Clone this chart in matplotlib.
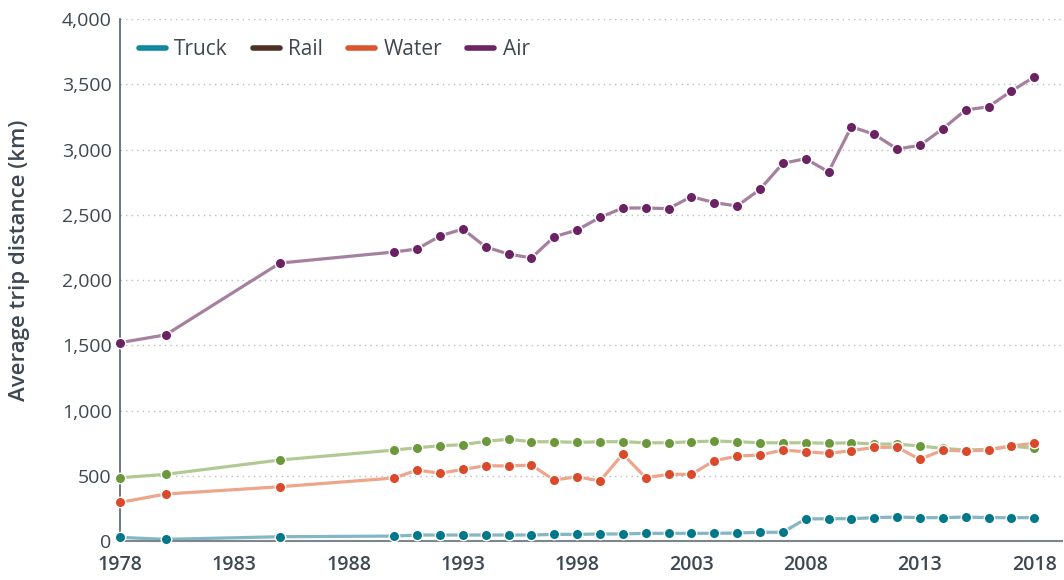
import matplotlib.pyplot as plt
from matplotlib.lines import Line2D
from matplotlib.ticker import FuncFormatter

years = [1978, 1980, 1985] + list(range(1990, 2019))

truck = [28, 13, 33, 38, 46, 46, 46, 46, 46, 46, 51, 51, 54, 54, 59, 59, 59, 59,
         61, 67, 67, 169, 171, 171, 179, 184, 179, 179, 184, 179, 179, 179]
rail = [485, 511, 621, 697, 715, 730, 738, 764, 780, 761, 761, 756, 761, 761, 753, 753,
        761, 766, 761, 753, 753, 753, 749, 753, 743, 743, 728, 710, 697, 703, 728, 710]
water = [296, 360, 416, 483, 544, 519, 549, 577, 575, 582, 467, 493, 460, 667, 485, 511,
         511, 615, 651, 659, 697, 684, 672, 692, 718, 718, 626, 697, 690, 697, 728, 749]
air = [1520, 1580, 2130, 2215, 2238, 2337, 2391, 2253, 2199, 2169, 2332, 2383, 2480,
       2552, 2552, 2547, 2639, 2593, 2567, 2695, 2894, 2930, 2828, 3175, 3116, 3004,
       3032, 3159, 3303, 3328, 3448, 3556]

names = ['Truck', 'Rail', 'Water', 'Air']
series = [truck, rail, water, air]
# (legend colour, marker colour, line colour)
colours = [('#0f8a9d', '#00788a', '#84b6c3'),
           ('#4d3027', '#6a983a', '#b3c994'),
           ('#dd5530', '#d9492a', '#eda58c'),
           ('#6b2464', '#6a2262', '#a5809f')]

plt.rcParams['font.family'] = ['Open Sans', 'DejaVu Sans']
text_col = '#3d4852'

fig = plt.figure(figsize=(10.64, 5.8), dpi=100)
ax = fig.add_axes([0.1128, 0.0672, 0.885, 0.9])

for vals, (_, mc, lc) in zip(series, colours):
    ax.plot(years, vals, color=lc, lw=2.3, zorder=2, solid_capstyle='butt')
    ax.plot(years, vals, ls='none', marker='o', ms=7.5, mfc=mc, mec='white',
            mew=1.0, zorder=3, clip_on=False)

ax.set_xlim(1978, 2019.2)
ax.set_ylim(0, 4000)
ax.set_xticks(range(1978, 2019, 5))
ax.set_yticks(range(0, 4001, 500))
ax.yaxis.set_major_formatter(FuncFormatter(lambda v, p: f'{int(v):,}'))
ax.tick_params(length=0, colors=text_col)
ax.tick_params(axis='y', labelsize=14, pad=6)
ax.tick_params(axis='x', labelsize=14, pad=10)
for lab in ax.get_xticklabels():
    lab.set_fontweight('semibold')
ax.set_ylabel('Average trip distance (km)', fontsize=16, color=text_col,
              fontweight='semibold')
ax.yaxis.set_label_coords(-0.096, 0.538)

for y in range(500, 4001, 500):
    ax.axhline(y, color='#bdbdbd', lw=1, ls=(0, (1, 3)), zorder=1)

for s in ['top', 'right']:
    ax.spines[s].set_visible(False)
ax.spines['left'].set_color('#55606a')
ax.spines['bottom'].set_color('#7d868e')
ax.spines['left'].set_linewidth(1.2)
ax.spines['bottom'].set_linewidth(1.5)

handles = [Line2D([], [], color=c[0], lw=4, solid_capstyle='round') for c in colours]
leg = ax.legend(handles, names, loc='upper left', ncol=4, frameon=False,
                fontsize=15, handlelength=1.3, handletextpad=0.4,
                columnspacing=1.2, bbox_to_anchor=(0.0, 0.997))
for t in leg.get_texts():
    t.set_color(text_col)

fig.savefig('out.png', dpi=100)
